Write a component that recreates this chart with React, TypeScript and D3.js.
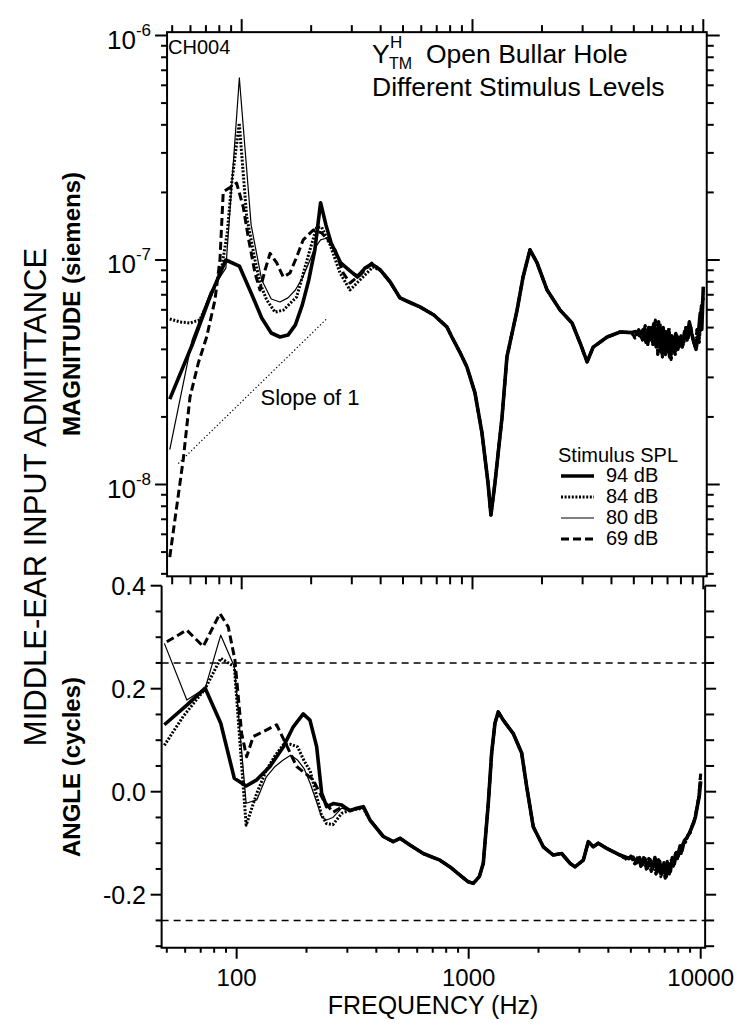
import React from 'react';
import * as d3 from 'd3';

const FONT = '"Liberation Sans", Arial, Helvetica, sans-serif';

// ---------- DATA (frequency in Hz, magnitude in siemens, angle in cycles) ----------
const seriesLabels = ['94 dB', '84 dB', '80 dB', '69 dB'];
const xTickLabels = ['100', '1000', '10000'];
const magExponents = ['-6', '-7', '-8'];
const angleTickLabels = ['0.4', '0.2', '0.0', '-0.2'];
const angleRefLines = [0.25, -0.25];
const slopeLine: [number, number][] = [[53.1, 1.24e-8], [233.5, 5.47e-8]];

const mag94Low: [number, number][] = [
  [48.8, 2.4e-8], [61.0, 4.18e-8], [73.2, 6.92e-8], [85.4, 1.0e-7], [97.7, 9.4e-8],
  [109.9, 7.13e-8], [122.1, 5.52e-8], [134.3, 4.73e-8], [146.5, 4.54e-8], [158.7, 4.63e-8],
  [170.9, 5.14e-8], [183.1, 6.31e-8], [195.3, 8.15e-8], [207.5, 1.11e-7], [219.7, 1.8e-7],
  [231.9, 1.43e-7], [244.1, 1.19e-7], [268.6, 9.7e-8], [293, 9.0e-8], [317, 8.4e-8],
  [342, 9.2e-8], [366, 9.6e-8],
];
const mag84Low: [number, number][] = [
  [48.8, 5.46e-8], [54, 5.3e-8], [59.7, 5.24e-8], [65.9, 5.41e-8], [75.4, 7.35e-8],
  [82, 9.31e-8], [86.6, 1.32e-7], [90.5, 2.2e-7], [97.6, 4.07e-7], [105.1, 1.56e-7],
  [114.2, 1.0e-7], [120, 7.9e-8], [128.3, 6.64e-8], [139.4, 5.86e-8], [151.5, 5.98e-8],
  [173, 6.84e-8], [197.6, 1.11e-7], [211.2, 1.4e-7], [222, 1.4e-7], [241.5, 1.17e-7],
  [266.8, 8.75e-8], [294.6, 7.35e-8], [325.6, 8.15e-8], [370, 9.3e-8],
];
const mag80Low: [number, number][] = [
  [48.8, 1.43e-8], [61, 4.4e-8], [73.2, 7.2e-8], [85.4, 9.2e-8], [97.7, 6.47e-7],
  [109.9, 1.43e-7], [122.1, 8.15e-8], [134.3, 6.7e-8], [146.5, 6.5e-8], [158.7, 6.78e-8],
  [170.9, 7.35e-8], [183.1, 8.3e-8], [195.3, 9.7e-8], [207.5, 1.13e-7], [219.7, 1.23e-7],
  [231.9, 1.25e-7], [244.1, 1.19e-7], [268.6, 9.8e-8], [293, 9.0e-8], [317, 8.6e-8],
  [342, 9.2e-8], [366, 9.6e-8],
];
const mag69Low: [number, number][] = [
  [48.8, 4.75e-9], [55.8, 1.29e-8], [59.7, 2.45e-8], [64.9, 3.48e-8], [70.5, 4.54e-8],
  [76.6, 6.64e-8], [80.5, 1.0e-7], [83.2, 2.01e-7], [95.1, 2.2e-7], [101.6, 1.72e-7],
  [106.8, 1.26e-7], [114.2, 8.75e-8], [120, 7.35e-8], [126.2, 9.0e-8], [132.7, 1.07e-7],
  [141.9, 9.7e-8], [151.5, 8.4e-8], [161.9, 8.75e-8], [173, 1.03e-7], [184.8, 1.23e-7],
  [204.3, 1.36e-7], [222.1, 1.32e-7], [241.5, 1.2e-7], [253.7, 1.11e-7], [275.6, 8.75e-8],
  [294.6, 7.9e-8], [327, 8.6e-8], [366, 9.7e-8],
];
const magTail: [number, number][] = [
  [400, 9.0e-8], [440, 7.98e-8], [485, 6.78e-8], [530, 6.5e-8], [592, 6.18e-8],
  [680, 5.69e-8], [774, 5.04e-8], [814, 4.54e-8], [880, 3.9e-8], [946, 3.34e-8],
  [1025, 2.56e-8], [1099, 1.7e-8], [1167, 1.02e-8], [1202, 7.31e-9], [1252, 1.02e-8],
  [1343, 2.0e-8], [1410, 3.7e-8], [1560, 5.98e-8], [1656, 8.4e-8], [1775, 1.11e-7],
  [1905, 9.7e-8], [2105, 7.35e-8], [2397, 5.98e-8], [2700, 5.24e-8], [2925, 4.27e-8],
  [3137, 3.52e-8], [3333, 4.09e-8], [3832, 4.54e-8], [4365, 4.78e-8], [4900, 4.75e-8],
];
const magNoiseA: [number, number][] = [
  [5100, 4.8e-8], [5300, 4.6e-8], [5500, 4.9e-8], [5650, 4.3e-8], [5800, 5.0e-8], [5950, 4.4e-8],
  [6100, 5.2e-8], [6250, 4.1e-8], [6400, 5.3e-8], [6550, 3.9e-8], [6700, 5.0e-8], [6850, 3.8e-8],
  [7000, 4.8e-8], [7150, 3.7e-8], [7300, 4.6e-8], [7450, 3.9e-8], [7600, 4.7e-8], [7750, 4.0e-8],
  [7900, 4.5e-8], [8100, 4.1e-8], [8300, 4.8e-8], [8500, 4.4e-8], [8700, 5.3e-8], [8900, 4.7e-8],
  [9100, 4.3e-8], [9300, 4.0e-8], [9500, 4.6e-8], [9700, 5.8e-8], [9850, 4.9e-8], [10000, 7.6e-8],
];
const magNoiseB: [number, number][] = [
  [5050, 4.5e-8], [5250, 4.9e-8], [5450, 4.4e-8], [5600, 5.1e-8], [5750, 4.2e-8], [5900, 5.1e-8],
  [6050, 4.2e-8], [6200, 5.4e-8], [6350, 3.8e-8], [6500, 5.2e-8], [6650, 3.7e-8], [6800, 4.9e-8],
  [6950, 3.9e-8], [7100, 5.0e-8], [7250, 3.6e-8], [7400, 4.5e-8], [7550, 3.8e-8], [7700, 4.6e-8],
  [7850, 4.1e-8], [8000, 4.6e-8], [8200, 4.2e-8], [8400, 5.0e-8], [8600, 4.5e-8], [8800, 5.1e-8],
  [9000, 4.5e-8], [9200, 4.1e-8], [9400, 4.9e-8], [9600, 4.3e-8], [9800, 6.2e-8], [10000, 6.8e-8],
];

const ang94Low: [number, number][] = [
  [48.8, 0.13], [61, 0.168], [73.2, 0.201], [85.4, 0.133], [97.7, 0.026], [109.9, 0.011],
  [122.1, 0.023], [139.2, 0.049], [158.8, 0.087], [175.4, 0.126], [193.6, 0.151], [207, 0.139],
  [221.3, 0.087], [232.5, -0.003], [244.3, -0.029], [260.9, -0.023], [283.6, -0.026],
  [307.8, -0.037], [329, -0.032], [351.6, -0.029], [375.6, -0.055],
];
const ang84Low: [number, number][] = [
  [48.8, 0.09], [58.8, 0.146], [73.2, 0.2], [85.4, 0.259], [97.7, 0.243], [109.9, -0.065],
  [122.1, -0.003], [134.3, 0.042], [146.5, 0.07], [158.7, 0.091], [170.9, 0.092], [183.1, 0.087],
  [195.3, 0.06], [207.5, 0.04], [219.7, -0.003], [231.9, -0.045], [244.1, -0.062], [260, -0.064],
  [283.6, -0.042], [307.8, -0.036], [351.6, -0.032], [375.6, -0.055],
];
const ang80Low: [number, number][] = [
  [48.8, 0.288], [61, 0.178], [73.2, 0.201], [85.4, 0.304], [97.7, 0.243], [109.9, -0.0225],
  [122.1, -0.016], [134.3, 0.029], [146.5, 0.049], [158.7, 0.0615], [170.9, 0.071],
  [183.1, 0.0615], [195.3, 0.045], [207.5, 0.016], [219.7, -0.016], [231.9, -0.0485],
  [244.1, -0.055], [260, -0.05], [283.6, -0.032], [307.8, -0.035], [351.6, -0.03], [375.6, -0.055],
];
const ang69Low: [number, number][] = [
  [50, 0.291], [60.9, 0.314], [71.8, 0.282], [84.7, 0.346], [92, 0.32], [98.3, 0.256],
  [105.1, 0.113], [110.4, 0.068], [117.9, 0.107], [134.7, 0.12], [148.7, 0.13], [181.4, 0.049],
  [213.8, 0.023], [236.3, -0.016], [260, -0.04], [283.6, -0.03], [307.8, -0.036],
  [351.6, -0.03], [375.6, -0.055],
];
const angTail: [number, number][] = [
  [428.6, -0.087], [473, -0.097], [506, -0.0905], [558, -0.1035], [637, -0.12], [752, -0.133],
  [831, -0.146], [917, -0.162], [996, -0.175], [1047, -0.178], [1111, -0.165], [1156, -0.139],
  [1215, -0.0225], [1256, 0.075], [1298, 0.133], [1341, 0.155], [1409, 0.139], [1556, 0.113],
  [1692, 0.075], [1778, 0.01], [1898, -0.068], [2097, -0.107], [2316, -0.123], [2517, -0.12],
  [2733, -0.139], [2872, -0.146], [3119, -0.133], [3278, -0.097], [3444, -0.107], [3620, -0.1],
  [3934, -0.11], [4489, -0.123],
];
const angNoiseA: [number, number][] = [
  [4700, -0.126], [4900, -0.13], [5100, -0.127], [5300, -0.138], [5450, -0.128], [5600, -0.142],
  [5750, -0.13], [5900, -0.148], [6050, -0.132], [6200, -0.15], [6350, -0.128], [6500, -0.155],
  [6650, -0.135], [6800, -0.16], [6950, -0.138], [7100, -0.165], [7250, -0.14], [7400, -0.155],
  [7550, -0.128], [7700, -0.14], [7850, -0.118], [8000, -0.125], [8150, -0.105], [8300, -0.115],
  [8500, -0.095], [8700, -0.09], [8900, -0.082], [9100, -0.072], [9300, -0.062], [9500, -0.048],
  [9700, -0.025], [9850, -0.01], [10000, 0.02],
];
const angNoiseB: [number, number][] = [
  [4800, -0.132], [5000, -0.125], [5200, -0.14], [5380, -0.126], [5520, -0.145], [5680, -0.128],
  [5830, -0.15], [5980, -0.13], [6120, -0.155], [6280, -0.135], [6420, -0.16], [6580, -0.132],
  [6730, -0.165], [6880, -0.14], [7030, -0.168], [7180, -0.135], [7330, -0.16], [7480, -0.13],
  [7630, -0.145], [7780, -0.12], [7930, -0.13], [8080, -0.11], [8230, -0.12], [8400, -0.1],
  [8600, -0.098], [8800, -0.085], [9000, -0.08], [9200, -0.065], [9400, -0.055], [9600, -0.035],
  [9800, -0.012], [10000, 0.035],
];

const seriesStyles = [
  { width: 3.6, dash: undefined as string | undefined },
  { width: 3, dash: '2 1.6' },
  { width: 1.2, dash: undefined as string | undefined },
  { width: 3, dash: '8 4' },
];

export default function App() {
  const xTop = d3.scaleLog().domain([50, 10000]).range([172.2, 703.3]);
  const yTop = d3.scaleLog().domain([1e-6, 1e-8]).range([35.5, 484.5]);
  const xBot = d3.scaleLog().domain([50, 10000]).range([166.8, 700.7]);
  const yBot = d3.scaleLinear().domain([0.4, -0.2]).range([585.7, 894.7]);

  const tf = { x0: xTop(47.5), x1: xTop(10350), y0: yTop(1.035e-6), y1: yTop(3.9e-9) };
  const bf = { x0: xBot(47.5), x1: xBot(10450), y0: yBot(0.4), y1: yBot(-0.303) };

  const mags = [
    [...mag94Low, ...magTail, ...magNoiseA],
    [...mag84Low, ...magTail, ...magNoiseB],
    [...mag80Low, ...magTail, ...magNoiseA],
    [...mag69Low, ...magTail, ...magNoiseB],
  ];
  const angs = [
    [...ang94Low, ...angTail, ...angNoiseA],
    [...ang84Low, ...angTail, ...angNoiseB],
    [...ang80Low, ...angTail, ...angNoiseA],
    [...ang69Low, ...angTail, ...angNoiseB],
  ];

  const magLine = d3.line<[number, number]>().x((d) => xTop(d[0])).y((d) => yTop(d[1]));
  const angLine = d3.line<[number, number]>().x((d) => xBot(d[0])).y((d) => yBot(d[1]));

  const isMajorX = (v: number) => xTickLabels.includes(String(Math.round(v)));
  const xTicks = xTop.ticks().filter((v) => v >= 50 && v <= 10000);
  const magTicks = d3.scaleLog().domain([3.9e-9, 1.035e-6]).ticks().filter((v) => v >= 3.95e-9 && v <= 1.01e-6);
  const isPow10 = (v: number) => Math.abs(Math.log10(v) - Math.round(Math.log10(v))) < 1e-6;
  const angTicks = d3.range(-6, 9).map((k) => k * 0.05);
  const angMajor = (v: number) => Math.abs(v * 10 - Math.round(v * 10)) < 1e-6 && Math.round(v * 10) % 2 === 0;

  const stroke = '#000';
  const order = [0, 1, 3, 2];

  return (
    <svg width={750} height={1031} style={{ position: 'absolute', left: 0, top: 0 }} fontFamily={FONT}>
      <rect x={0} y={0} width={750} height={1031} fill="#fff" />
      {/* ---------- TOP PANEL ---------- */}
      <rect x={tf.x0} y={tf.y0} width={tf.x1 - tf.x0} height={tf.y1 - tf.y0} fill="none" stroke={stroke} strokeWidth={2} />
      {xTicks.map((v, i) => {
        const x = xTop(v);
        const L = isMajorX(v) ? 13 : 7;
        return (
          <g key={'tx' + i}>
            <line x1={x} x2={x} y1={tf.y0} y2={tf.y0 - L} stroke={stroke} strokeWidth={2} />
            <line x1={x} x2={x} y1={tf.y1} y2={tf.y1 + (isMajorX(v) ? 13 : 8)} stroke={stroke} strokeWidth={2} />
          </g>
        );
      })}
      {magTicks.map((v, i) => {
        const y = yTop(v);
        const maj = isPow10(v);
        return (
          <g key={'ty' + i}>
            <line x1={tf.x0} x2={tf.x0 - (maj ? 12 : 6)} y1={y} y2={y} stroke={stroke} strokeWidth={2} />
            <line x1={tf.x1} x2={tf.x1 + (maj ? 13 : 7)} y1={y} y2={y} stroke={stroke} strokeWidth={2} />
          </g>
        );
      })}
      {magExponents.map((e, i) => (
        <text key={'ml' + i} x={151} y={yTop(Math.pow(10, Number(e))) + 13} textAnchor="end" fontSize={26}>
          10<tspan dy={-13} fontSize={17}>{e}</tspan>
        </text>
      ))}
      {/* slope of 1 */}
      <path d={magLine(slopeLine) || ''} fill="none" stroke={stroke} strokeWidth={1.2} strokeDasharray="1.3 2.3" />
      <text x={260.5} y={405} fontSize={22}>Slope of 1</text>
      {order.map((k) => (
        <path key={'m' + k} d={magLine(mags[k]) || ''} fill="none" stroke={stroke}
          strokeWidth={seriesStyles[k].width} strokeDasharray={seriesStyles[k].dash} strokeLinejoin="round" />
      ))}
      <text x={168} y={54} fontSize={20}>CH004</text>
      {/* title */}
      <text x={372} y={63} fontSize={26.5}>Y</text>
      <text x={390} y={48} fontSize={17}>H</text>
      <text x={389} y={69} fontSize={16}>TM</text>
      <text x={426} y={63} fontSize={26.5}>Open Bullar Hole</text>
      <text x={372} y={96} fontSize={26.5}>Different Stimulus Levels</text>
      {/* legend */}
      <text x={558} y={462} fontSize={20}>Stimulus SPL</text>
      {seriesLabels.map((lab, k) => (
        <g key={'lg' + k}>
          <line x1={561} x2={594} y1={476 + k * 21} y2={476 + k * 21} stroke={stroke}
            strokeWidth={seriesStyles[k].width} strokeDasharray={seriesStyles[k].dash} />
          <text x={606} y={482 + k * 21} fontSize={20}>{lab}</text>
        </g>
      ))}

      {/* ---------- BOTTOM PANEL ---------- */}
      <line x1={bf.x0} x2={bf.x0} y1={bf.y0} y2={bf.y1} stroke={stroke} strokeWidth={2} />
      <line x1={bf.x1} x2={bf.x1} y1={bf.y0} y2={bf.y1} stroke={stroke} strokeWidth={2} />
      <line x1={bf.x0 - 1} x2={bf.x1 + 1} y1={bf.y1} y2={bf.y1} stroke={stroke} strokeWidth={2} />
      {angTicks.map((v, i) => {
        const y = yBot(v);
        const maj = angMajor(v);
        return (
          <g key={'by' + i}>
            <line x1={bf.x0} x2={bf.x0 - (maj ? 11 : 6)} y1={y} y2={y} stroke={stroke} strokeWidth={2} />
            <line x1={bf.x1} x2={bf.x1 + (maj ? 11 : 9)} y1={y} y2={y} stroke={stroke} strokeWidth={2} />
          </g>
        );
      })}
      {angleTickLabels.map((t, i) => (
        <text key={'al' + i} x={146} y={yBot(Number(t)) + 9} textAnchor="end" fontSize={25}>{t}</text>
      ))}
      {xTicks.map((v, i) => {
        const x = xBot(v);
        return <line key={'bx' + i} x1={x} x2={x} y1={bf.y1} y2={bf.y1 + (isMajorX(v) ? 11 : 5)} stroke={stroke} strokeWidth={2} />;
      })}
      {xTickLabels.map((t, i) => (
        <text key={'xl' + i} x={xBot(Number(t))} y={986} textAnchor="middle" fontSize={24}>{t}</text>
      ))}
      {angleRefLines.map((v, i) => (
        <line key={'rl' + i} x1={bf.x0} x2={bf.x1} y1={yBot(v)} y2={yBot(v)} stroke={stroke} strokeWidth={1.4} strokeDasharray="7 5" />
      ))}
      {order.map((k) => (
        <path key={'a' + k} d={angLine(angs[k]) || ''} fill="none" stroke={stroke}
          strokeWidth={seriesStyles[k].width} strokeDasharray={seriesStyles[k].dash} strokeLinejoin="round" />
      ))}

      {/* axis titles */}
      <text x={433} y={1014} textAnchor="middle" fontSize={25}>FREQUENCY (Hz)</text>
      <text transform="translate(46,497) rotate(-90)" textAnchor="middle" fontSize={31}>MIDDLE-EAR INPUT ADMITTANCE</text>
      <text transform="translate(80,304) rotate(-90)" textAnchor="middle" fontSize={24} fontWeight="bold">MAGNITUDE (siemens)</text>
      <text transform="translate(80,767) rotate(-90)" textAnchor="middle" fontSize={24} fontWeight="bold">ANGLE (cycles)</text>
    </svg>
  );
}
